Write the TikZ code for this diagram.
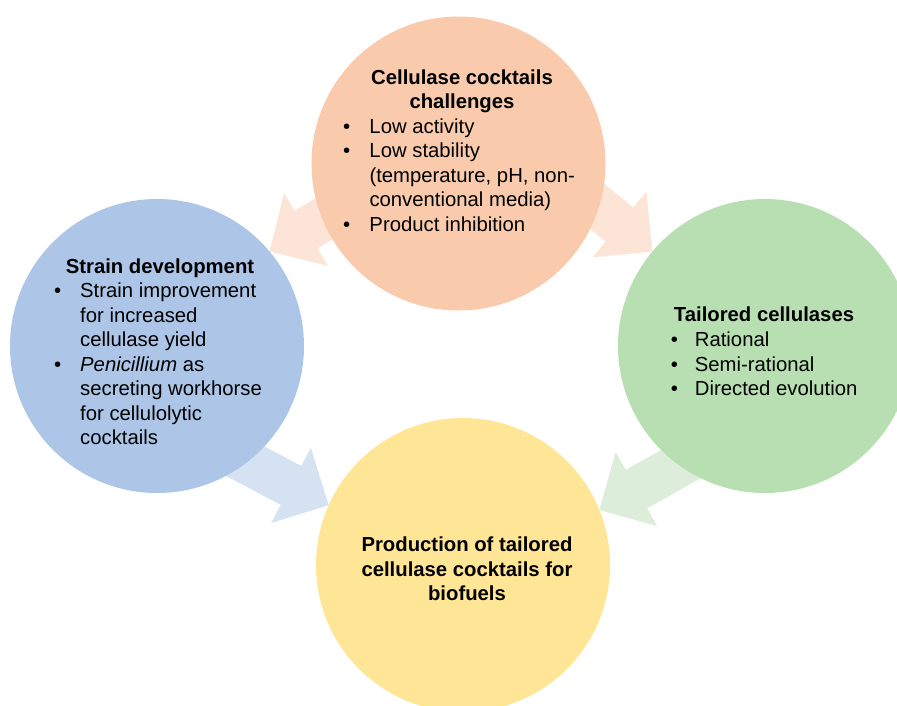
\documentclass[tikz,border=0pt]{standalone}
\usepackage{fontspec}
\setmainfont{Liberation Sans}
\usetikzlibrary{backgrounds}
\definecolor{peach}{HTML}{F9CBAC}
\definecolor{peachlt}{HTML}{FCE4D6}
\definecolor{bluec}{HTML}{ADC6E8}
\definecolor{bluelt}{HTML}{D5E2F2}
\definecolor{greenc}{HTML}{B8DFB2}
\definecolor{greenlt}{HTML}{DCEEDA}
\definecolor{yellowc}{HTML}{FFE596}
\newcommand{\bul}[1][26pt]{\makebox[#1][l]{•}}
\begin{document}
\begin{tikzpicture}[x=1pt,y=-1pt,
  blob/.style={circle, minimum size=294pt, inner sep=0pt, outer sep=0pt},
  ttl/.style={anchor=base, inner sep=0pt, font=\bfseries\fontsize{20.3}{24.5}\selectfont},
  lst/.style={anchor=base west, inner sep=0pt, font=\fontsize{20.3}{24.5}\selectfont},
  blockarrow/.style={fill=#1}]
\useasboundingbox (0,0) rectangle (897,705);
\clip (0,0) rectangle (897,705);
% circles
\node[blob, fill=peach]   (top)    at (458.5,163.5) {};
\node[blob, fill=bluec]   (left)   at (157,346) {};
\node[blob, fill=greenc]  (right)  at (765,346) {};
\node[blob, fill=yellowc] (bottom) at (463,565) {};
% block arrows (behind circles)
\begin{scope}[on background layer]
\fill[blockarrow=peachlt, shift={(left.40.9)}, rotate=211.1]
  (0,0) -- (-42.6,42.5) -- (-42.6,22) -- (-125,22) -- (-125,-22) -- (-42.6,-22) -- (-42.6,-42.5) -- cycle;
\fill[blockarrow=peachlt, shift={(right.140.3)}, rotate=-39.3]
  (0,0) -- (-42.6,42.5) -- (-42.6,22) -- (-125,22) -- (-125,-22) -- (-42.6,-22) -- (-42.6,-42.5) -- cycle;
\fill[blockarrow=bluelt, shift={(bottom.156.7)}, rotate=-27.8]
  (0,0) -- (-42.6,42.5) -- (-42.6,22) -- (-120,22) -- (-120,-22) -- (-42.6,-22) -- (-42.6,-42.5) -- cycle;
\fill[blockarrow=greenlt, shift={(bottom.22.4)}, rotate=209.3]
  (0,0) -- (-42.6,42.5) -- (-42.6,22) -- (-120,22) -- (-120,-22) -- (-42.6,-22) -- (-42.6,-42.5) -- cycle;
\end{scope}
% top circle text
\node[ttl] (toptitle) at (462,84) {\begin{tabular}[t]{@{}c@{}}Cellulase cocktails\\challenges\end{tabular}};
\node[lst] (toplist) at (343,133) {\begin{tabular}[t]{@{}l@{}l@{}}
\bul[26.3pt] & Low activity\\
\bul[26.3pt] & Low stability\\
 & (temperature, pH, non-\\
 & conventional media)\\
\bul[26.3pt] & Product inhibition
\end{tabular}};
% left circle text
\node[ttl] (lefttitle) at (160,273) {Strain development};
\node[lst] (leftlist) at (54,297.7) {\begin{tabular}[t]{@{}l@{}l@{}}
\bul[26pt] & Strain improvement\\
 & for increased\\
 & cellulase yield\\
\bul[26pt] & \textit{Penicillium} as\\
 & secreting workhorse\\
 & for cellulolytic\\
 & cocktails
\end{tabular}};
% right circle text
\node[ttl] (righttitle) at (764,321) {Tailored cellulases};
\node[lst] (rightlist) at (670.7,346.7) {\begin{tabular}[t]{@{}l@{}l@{}}
\bul[24pt] & Rational\\
\bul[24pt] & Semi-rational\\
\bul[24pt] & Directed evolution
\end{tabular}};
% bottom circle text
\node[ttl] (bottomtitle) at (467,551.7) {\begin{tabular}[t]{@{}c@{}}Production of tailored\\cellulase cocktails for\\biofuels\end{tabular}};
\end{tikzpicture}
\end{document}
